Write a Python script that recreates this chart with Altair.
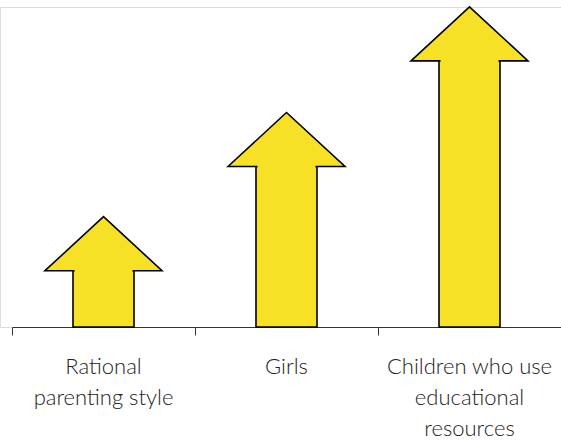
import altair as alt
import pandas as pd

categories = ["Rational parenting style", "Girls", "Children who use educational resources"]
label_lines = [["Rational", "parenting style"], ["Girls"], ["Children who use", "educational", "resources"]]
values = [1.033, 2.01, 3.0]
head = 0.505  # arrow head height, in data units

df = pd.DataFrame({"cat": categories, "value": values})
df["base"] = df["value"] - head
df["c0"] = df["base"] - 0.02
df["c1"] = df["base"] + 0.02
df["zero"] = 0.0

YELLOW = "#f6e126"

# label expression built from the lines lists
expr = "''"
for c, lines in zip(reversed(categories), reversed(label_lines)):
    arr = "[" + ",".join("'" + s + "'" for s in lines) + "]"
    expr = f"datum.value == '{c}' ? {arr} : ({expr})"

x = alt.X("cat:N", sort=categories, title=None,
          scale=alt.Scale(paddingInner=0, paddingOuter=0, range=[12, 561]),
          axis=alt.Axis(bandPosition=0, labelAngle=0, labelExpr=expr,
                        labelFont="Lato", labelFontSize=22, labelFontWeight=300,
                        labelColor="#222",
                        labelLineHeight=31, labelPadding=21, labelLimit=1000,
                        labelOverlap=False, labelBound=False,
                        domainColor="#333", domainWidth=1, tickColor="#333",
                        tickSize=8, tickWidth=1, grid=False))
yscale = alt.Scale(domain=[0, 3], nice=False, zero=True)

shaft = alt.Chart(df).mark_bar(width=61, color=YELLOW, stroke="black", strokeWidth=1.6).encode(
    x=x,
    y=alt.Y("zero:Q", scale=yscale, axis=None),
    y2="base:Q",
)

head_shape = "M-1,0L0,-0.923L1,0Z"
heads = alt.Chart(df).mark_point(shape=head_shape, size=117 * 117, filled=True, color=YELLOW,
                                 stroke="black", strokeWidth=1.6, opacity=1, fillOpacity=1,
                                 strokeJoin="miter").encode(
    x=x,
    y=alt.Y("base:Q", scale=yscale, axis=None),
)

cover = alt.Chart(df).mark_bar(width=58, color=YELLOW, strokeWidth=0).encode(
    x=x,
    y=alt.Y("c0:Q", scale=yscale, axis=None),
    y2="c1:Q",
)

chart = alt.layer(shaft, heads, cover).properties(
    width=561, height=320,
    autosize=alt.AutoSizeParams(type="none"),
    padding={"left": 0, "top": 7, "right": 0, "bottom": 114},
).configure_view(stroke="transparent", strokeWidth=0).configure(background="white")

chart.save("out.html", embed_options={"renderer": "svg", "actions": False})
